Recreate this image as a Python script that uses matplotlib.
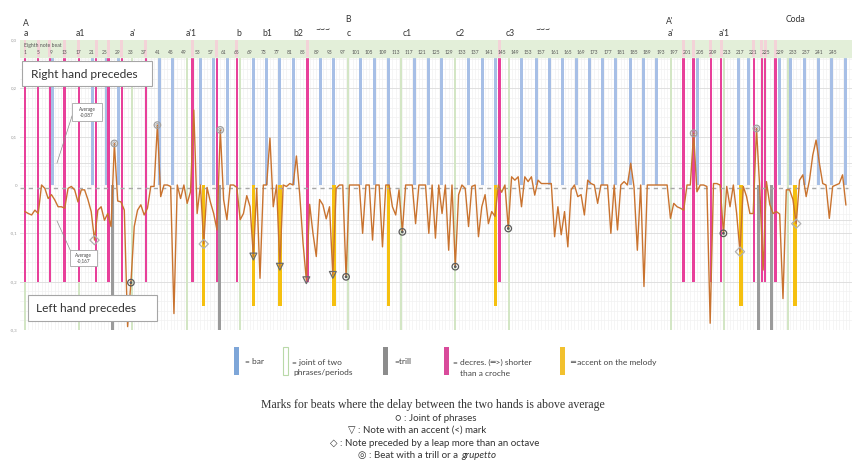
import matplotlib
matplotlib.use('Agg')
import matplotlib.pyplot as plt
from matplotlib.patches import Rectangle
from matplotlib.lines import Line2D
import numpy as np

W, H = 857, 465

# ---------------- data ----------------
delay = [
    -0.055, -0.059, -0.062, -0.052, -0.059, 0.0, -0.007, -0.028, -0.020, -0.031,
    -0.045, -0.045, -0.048, -0.007, -0.003, -0.010, -0.035, -0.010, -0.010, -0.030,
    -0.055, -0.114, -0.052, -0.045, -0.073, -0.059, -0.086, 0.086, -0.033, -0.035,
    -0.052, -0.293, -0.202, -0.086, -0.052, -0.041, -0.062, -0.048, -0.003, -0.003,
    0.124, -0.024, 0.0, 0.0, -0.003, -0.266, 0.0, -0.028, 0.0, -0.038,
    -0.014, 0.155, -0.059, 0.0, -0.122, -0.005, -0.035, -0.059, -0.093, 0.114,
    -0.030, -0.072, 0.0, 0.0, -0.005, -0.072, -0.059, -0.022, -0.045, -0.148,
    -0.007, -0.193, 0.0, 0.0, 0.097, -0.045, 0.0, -0.169, 0.0, -0.003,
    0.003, 0.0, 0.060, -0.020, -0.120, -0.197, -0.040, -0.100, -0.148, -0.030,
    -0.041, -0.070, -0.045, -0.186, -0.007, 0.0, 0.0, -0.190, 0.0, 0.0,
    0.0, 0.0, -0.100, 0.0, 0.0, -0.114, 0.0, 0.0, -0.128, 0.0,
    0.0, -0.045, -0.062, -0.010, -0.097, 0.0, 0.0, 0.0, -0.080, 0.0,
    0.0, 0.0, -0.100, 0.0, -0.110, 0.0, -0.059, 0.0, -0.135, 0.0,
    -0.169, -0.020, 0.0, -0.007, -0.086, -0.003, 0.0, -0.107, -0.045, -0.020,
    -0.080, -0.055, -0.065, 0.0, -0.015, 0.0, -0.090, 0.017, 0.010, 0.017,
    -0.045, 0.017, 0.007, 0.017, -0.021, 0.010, 0.003, 0.003, 0.003, 0.003,
    -0.107, -0.045, -0.103, -0.055, -0.128, -0.010, 0.0, -0.024, -0.020, -0.062,
    0.010, 0.003, 0.0, -0.038, 0.0, 0.0, 0.0, -0.100, 0.0, -0.093,
    0.0, 0.007, 0.0, 0.045, -0.005, -0.135, 0.0, -0.210, 0.0, 0.0,
    0.0, 0.0, 0.0, 0.0, 0.0, -0.069, -0.038, -0.045, -0.048, -0.052,
    0.0, 0.0, 0.107, -0.014, 0.0, 0.0, -0.003, -0.286, 0.003, 0.003,
    0.0, -0.100, -0.003, -0.045, 0.0, -0.059, -0.138, -0.003, -0.024, -0.059,
    -0.059, 0.117, -0.010, -0.176, 0.007, -0.040, -0.059, -0.055, -0.060, -0.235,
    -0.010, -0.010, -0.030, -0.080, 0.010, 0.021, -0.024, 0.010, 0.062, 0.093,
    0.045, 0.003, 0.0, -0.069, -0.003, 0.0, 0.003, 0.021, -0.041,
]
beats = list(range(1, len(delay) + 1))

bar_beats = [9.3, 21.3, 25.5, 29.2, 41.5, 45.7, 54, 58, 62.2, 70, 74, 78, 82.2, 90.2,
             94.2, 102.5, 106.6, 110.7, 118.8, 122.9, 126.9, 135, 139.1, 143.1, 151.1,
             155.4, 159.4, 163.4, 167.5, 171.5, 175.5, 179.5, 183.8, 187.8, 191.8,
             204.1, 216.5, 219.6, 228.8, 232.4, 236.6, 240.7, 244.7, 249]
joint_beats = [1, 17.3, 33.2, 49.8, 66, 98.7, 114.7, 131, 147.3, 196.3, 212.3, 231.4]
trill_beats = [27.5, 59.7, 222.5, 226.6]
decres_beats = [1, 5, 8.5, 13, 17.3, 22.5, 26.2, 30.3, 37.5, 51.6, 59, 65, 86.3, 144.3,
                200, 203, 208.2, 211.3, 221.2, 223.6, 224.6, 227.8]
accent_beats = [54.9, 70, 78, 94.4, 110.8, 143.2, 217.3, 233.6]

joint_marks = [28, 41, 60, 203, 222]
accent_marks = [70, 78, 86, 94]
leap_marks = [22, 55, 217, 234]
trill_marks = [33, 98, 115, 131, 147, 212]

tick_beats = list(range(1, 246, 4))
ytick_vals = [0.3, 0.2, 0.1, 0.0, -0.1, -0.2, -0.3]
ytick_labels = ['0,3', '0,2', '0,1', '0', '-0,1', '-0,2', '-0,3']

sections = [("A", 26, 24), ("a", 26, 33), ("a1", 80, 33), ("a'", 133, 33), ("a'1", 191, 33),
            ("b", 239, 33), ("b1", 267, 33), ("b2", 298, 33), ("~~~", 323, 30),
            ("B", 348, 19), ("c", 349, 33), ("c1", 407, 33), ("c2", 460, 33), ("c3", 510, 33),
            ("~~~", 543, 30), ("A'", 670, 21), ("a'", 671, 33), ("a'1", 724, 34), ("Coda", 796, 20)]

# ---------------- figure ----------------
plt.rcParams['font.family'] = ['Lato', 'DejaVu Sans']
fig = plt.figure(figsize=(W / 100, H / 100), dpi=100)
fig.patch.set_facecolor('white')

def fx(x):
    return x / W

def fy(y):
    return 1 - y / H

AX_L, AX_R, AX_T, AX_B = 20, 852, 40, 330
ax = fig.add_axes([fx(AX_L), fy(AX_B), (AX_R - AX_L) / W, (AX_B - AX_T) / H])
x0 = 1 - 5 / 3.31
x1 = x0 + (AX_R - AX_L) / 3.31
ax.set_xlim(x0, x1)
ax.set_ylim(-0.3, 0.3)
for s in ax.spines.values():
    s.set_visible(False)
ax.set_xticks([])
ax.set_yticks(ytick_vals)
ax.set_yticklabels(ytick_labels, fontsize=3.2, color='#9a9a9a')
ax.tick_params(axis='y', length=0, pad=2)

TOP = 0.3 - 17 / 483.0

# faint grid
for b in range(1, 252):
    ax.plot([b, b], [-0.3, TOP], color='#f1f1f1', lw=0.5, zorder=0)
for v in np.arange(-0.3, TOP, 0.02):
    ax.axhline(v, color='#f1f1f1', lw=0.5, zorder=0)
for v in [0.2, 0.1, -0.1, -0.2, 0.045, -0.072]:
    ax.axhline(v, color='#dcdcdc', lw=0.6, zorder=0.5)

# joints (green)
ax.bar(joint_beats, 0.3 + TOP, bottom=-0.3, width=0.6, color='#d3e6c5', zorder=1)
# bars (blue)
ax.bar(bar_beats, TOP, bottom=0, width=0.9, color='#a7bfe6', zorder=2)
# decres (pink)
ax.bar(decres_beats, TOP + 0.2, bottom=-0.2, width=0.75, color='#e8409a', zorder=3)
# accents (yellow)
ax.bar(accent_beats, -0.25, bottom=0, width=1.0, color='#f5c010', zorder=3)
# trills (grey)
ax.bar(trill_beats, -0.3, bottom=0, width=0.9, color='#9b9b9b', zorder=3)

# header band
ax.add_patch(Rectangle((x0, TOP), x1 - x0, 0.3 - TOP, color='#e3efd9', zorder=4))
ax.bar(decres_beats, 0.3 - TOP, bottom=TOP, width=0.9, color='#f3d3d8', zorder=4.1)
ax.text(1 - 0.3, 0.3 - 0.006, 'Eighth note beat', fontsize=3.7, color='#555555',
        ha='left', va='top', zorder=5)
for b in tick_beats:
    ax.text(b, 0.3 - 0.025, str(b), fontsize=3.5, color='#555555', ha='center',
            va='center', zorder=5)

# average dashed line
ax.axhline(-0.006, xmin=0, xmax=(249.5 - x0) / (x1 - x0), color='#a8a8a8',
           lw=1.0, ls=(0, (3, 3)), zorder=4)

# main line
ax.plot(beats, delay, color='#c9732f', lw=1.0, zorder=6)

def vals(bs):
    return [delay[b - 1] for b in bs]

ax.scatter(joint_marks, vals(joint_marks), s=22, facecolors='none', edgecolors='#a0a0a0',
           linewidths=0.9, zorder=7)
ax.scatter(joint_marks, vals(joint_marks), s=5, facecolors='none', edgecolors='#a0a0a0',
           linewidths=0.6, zorder=7)
ax.scatter(accent_marks, vals(accent_marks), s=24, marker='v', facecolors='none',
           edgecolors='#6a6a6a', linewidths=0.9, zorder=7)
ax.scatter(leap_marks, vals(leap_marks), s=22, marker='D', facecolors='none',
           edgecolors='#b0b0b0', linewidths=0.9, zorder=7)
ax.scatter(trill_marks, vals(trill_marks), s=22, facecolors='none', edgecolors='#5a5a5a',
           linewidths=0.9, zorder=7)
ax.scatter(trill_marks, vals(trill_marks), s=4, facecolors='#5a5a5a', edgecolors='none',
           zorder=7)

# ---------------- text boxes ----------------
def box(x_a, y_a, x_b, y_b, lw=0.8, ec='#a6a6a6'):
    fig.add_artist(Rectangle((fx(x_a), fy(y_b)), (x_b - x_a) / W, (y_b - y_a) / H,
                             transform=fig.transFigure, facecolor='white', edgecolor=ec,
                             lw=lw, zorder=10))

box(22, 61, 152, 86)
fig.text(fx(31), fy(74), 'Right hand precedes', fontsize=8.6, color='#333333',
         ha='left', va='center', zorder=11)
box(28, 295, 157, 321)
fig.text(fx(36), fy(308), 'Left hand precedes', fontsize=8.6, color='#333333',
         ha='left', va='center', zorder=11)

fig.add_artist(Line2D([fx(57), fx(72)], [fy(163), fy(116)], transform=fig.transFigure,
                      color='#8c8c8c', lw=0.5, zorder=9))
fig.add_artist(Line2D([fx(57), fx(72)], [fy(221), fy(254)], transform=fig.transFigure,
                      color='#8c8c8c', lw=0.5, zorder=9))
box(72, 103, 102, 121, lw=0.6)
fig.text(fx(87), fy(112), 'Average\n-0,087', fontsize=3.3, color='#444444', ha='center',
         va='center', linespacing=1.1, zorder=11)
box(70, 250, 97, 266, lw=0.6)
fig.text(fx(83.5), fy(258), 'Average\n-0,167', fontsize=3.3, color='#444444', ha='center',
         va='center', linespacing=1.1, zorder=11)

# section labels
for lab, x, y in sections:
    fig.text(fx(x), fy(y), lab, fontsize=6.2, color='#333333', ha='center', va='center')

# ---------------- legend ----------------
LEG_T, LEG_B = 347, 375
def lbar(x, color, fill=True):
    fig.add_artist(Rectangle((fx(x), fy(LEG_B)), 4.5 / W, (LEG_B - LEG_T) / H,
                             transform=fig.transFigure,
                             facecolor=color if fill else 'white',
                             edgecolor=color if not fill else 'none', lw=0.8))

LFS = 6.0
lbar(234, '#7ea6d8')
fig.text(fx(245), fy(362), '= bar', fontsize=LFS, color='#444444', va='center')
lbar(283, '#b9d9a8', fill=False)
fig.text(fx(292), fy(362), '= joint of two', fontsize=LFS, color='#444444', va='center')
fig.text(fx(293), fy(373), 'phrases/periods', fontsize=LFS, color='#444444', va='center')
lbar(383, '#8c8c8c')
fig.text(fx(394), fy(361), '=trill', fontsize=LFS, color='#444444', va='center')
lbar(444, '#d94a9b')
fig.text(fx(453), fy(362), '= decres. (\u2550>) shorter', fontsize=LFS, color='#444444',
         va='center')
fig.text(fx(460), fy(373), 'than a croche', fontsize=LFS, color='#444444', va='center')
lbar(560, '#f2c12e')
fig.text(fx(570), fy(362), '\u2550 accent on the melody', fontsize=LFS, color='#444444',
         va='center')

fig.text(fx(433), fy(405), 'Marks for beats where the delay between the two hands is above average',
         fontsize=8.5, family=['Liberation Serif'], color='#333333', ha='center', va='center')
MFS = 7.0
mk_fam = ['Lato', 'DejaVu Sans']
fig.text(fx(436), fy(418), '\u25cb : Joint of phrases', fontsize=MFS, color='#333333',
         ha='center', va='center', family=mk_fam)
fig.text(fx(417), fy(430.5), '\u25bd : Note with an accent (<) mark', fontsize=MFS,
         color='#333333', ha='center', va='center', family=mk_fam)
fig.text(fx(435), fy(443), '\u25c7 : Note preceded by a leap more than an octave', fontsize=MFS,
         color='#333333', ha='center', va='center', family=mk_fam)
t1 = fig.text(fx(358), fy(455.5), '\u25ce : Beat with a trill or a', fontsize=MFS,
              color='#333333', ha='left', va='center', family=mk_fam)
fig.canvas.draw()
bb = t1.get_window_extent(renderer=fig.canvas.get_renderer())
fig.text((bb.x1 + 3) / W, fy(455.5), 'grupetto', fontsize=MFS, color='#333333', ha='left',
         va='center', style='italic', family=mk_fam)

fig.savefig('out.png', dpi=100, facecolor='white')
